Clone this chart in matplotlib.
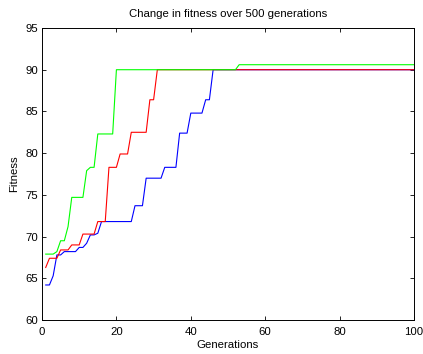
import numpy as np
import matplotlib
matplotlib.use('Agg')
import matplotlib.pyplot as plt

# fitness per generation, stored as (value, number of generations it holds)
green_vals = [67.9, 68.2, 69.5, 71.2, 74.7, 77.9, 78.3, 82.3, 90.0, 90.6]
green_runs = [3, 1, 2, 1, 4, 1, 2, 5, 33, 48]

red_vals = [66.3, 67.4, 68.4, 69.0, 70.3, 71.8, 78.3, 79.9, 82.5, 86.4, 90.0]
red_runs = [1, 3, 3, 3, 4, 3, 3, 3, 5, 2, 70]

blue_vals = [64.2, 65.3, 67.8, 68.2, 68.7, 69.2, 70.2, 70.4, 71.8, 73.7,
             77.0, 78.3, 82.4, 84.8, 86.4, 90.0]
blue_runs = [2, 1, 2, 4, 2, 1, 2, 1, 9, 3, 5, 4, 3, 4, 2, 55]

generations = np.arange(1, 101)
green = np.repeat(green_vals, green_runs)
red = np.repeat(red_vals, red_runs)
blue = np.repeat(blue_vals, blue_runs)

plt.rcParams['font.family'] = ['Liberation Sans', 'DejaVu Sans']
plt.rcParams['font.size'] = 8.2

fig = plt.figure(figsize=(4.23, 3.54), dpi=100)
ax = fig.add_axes([0.0993, 0.096, 0.8794, 0.8249])

ax.plot(generations, blue, color='#0000ff', linewidth=0.8)
ax.plot(generations, red, color='#ff0000', linewidth=0.8)
ax.plot(generations, green, color='#00ff00', linewidth=0.8)

ax.set_xlim(0, 100)
ax.set_ylim(60, 95)
ax.set_xticks(range(0, 101, 20))
ax.set_yticks(range(60, 96, 5))
ax.tick_params(direction='in', length=3, width=0.6, top=True, right=True, pad=3)
ax.tick_params(axis='x', pad=5)
for spine in ax.spines.values():
    spine.set_linewidth(0.7)

ax.set_title('Change in fitness over 500 generations', fontsize=8.2, pad=8)
ax.set_xlabel('Generations', labelpad=2)
ax.set_ylabel('Fitness', labelpad=4)

fig.savefig('out.png', dpi=100)
